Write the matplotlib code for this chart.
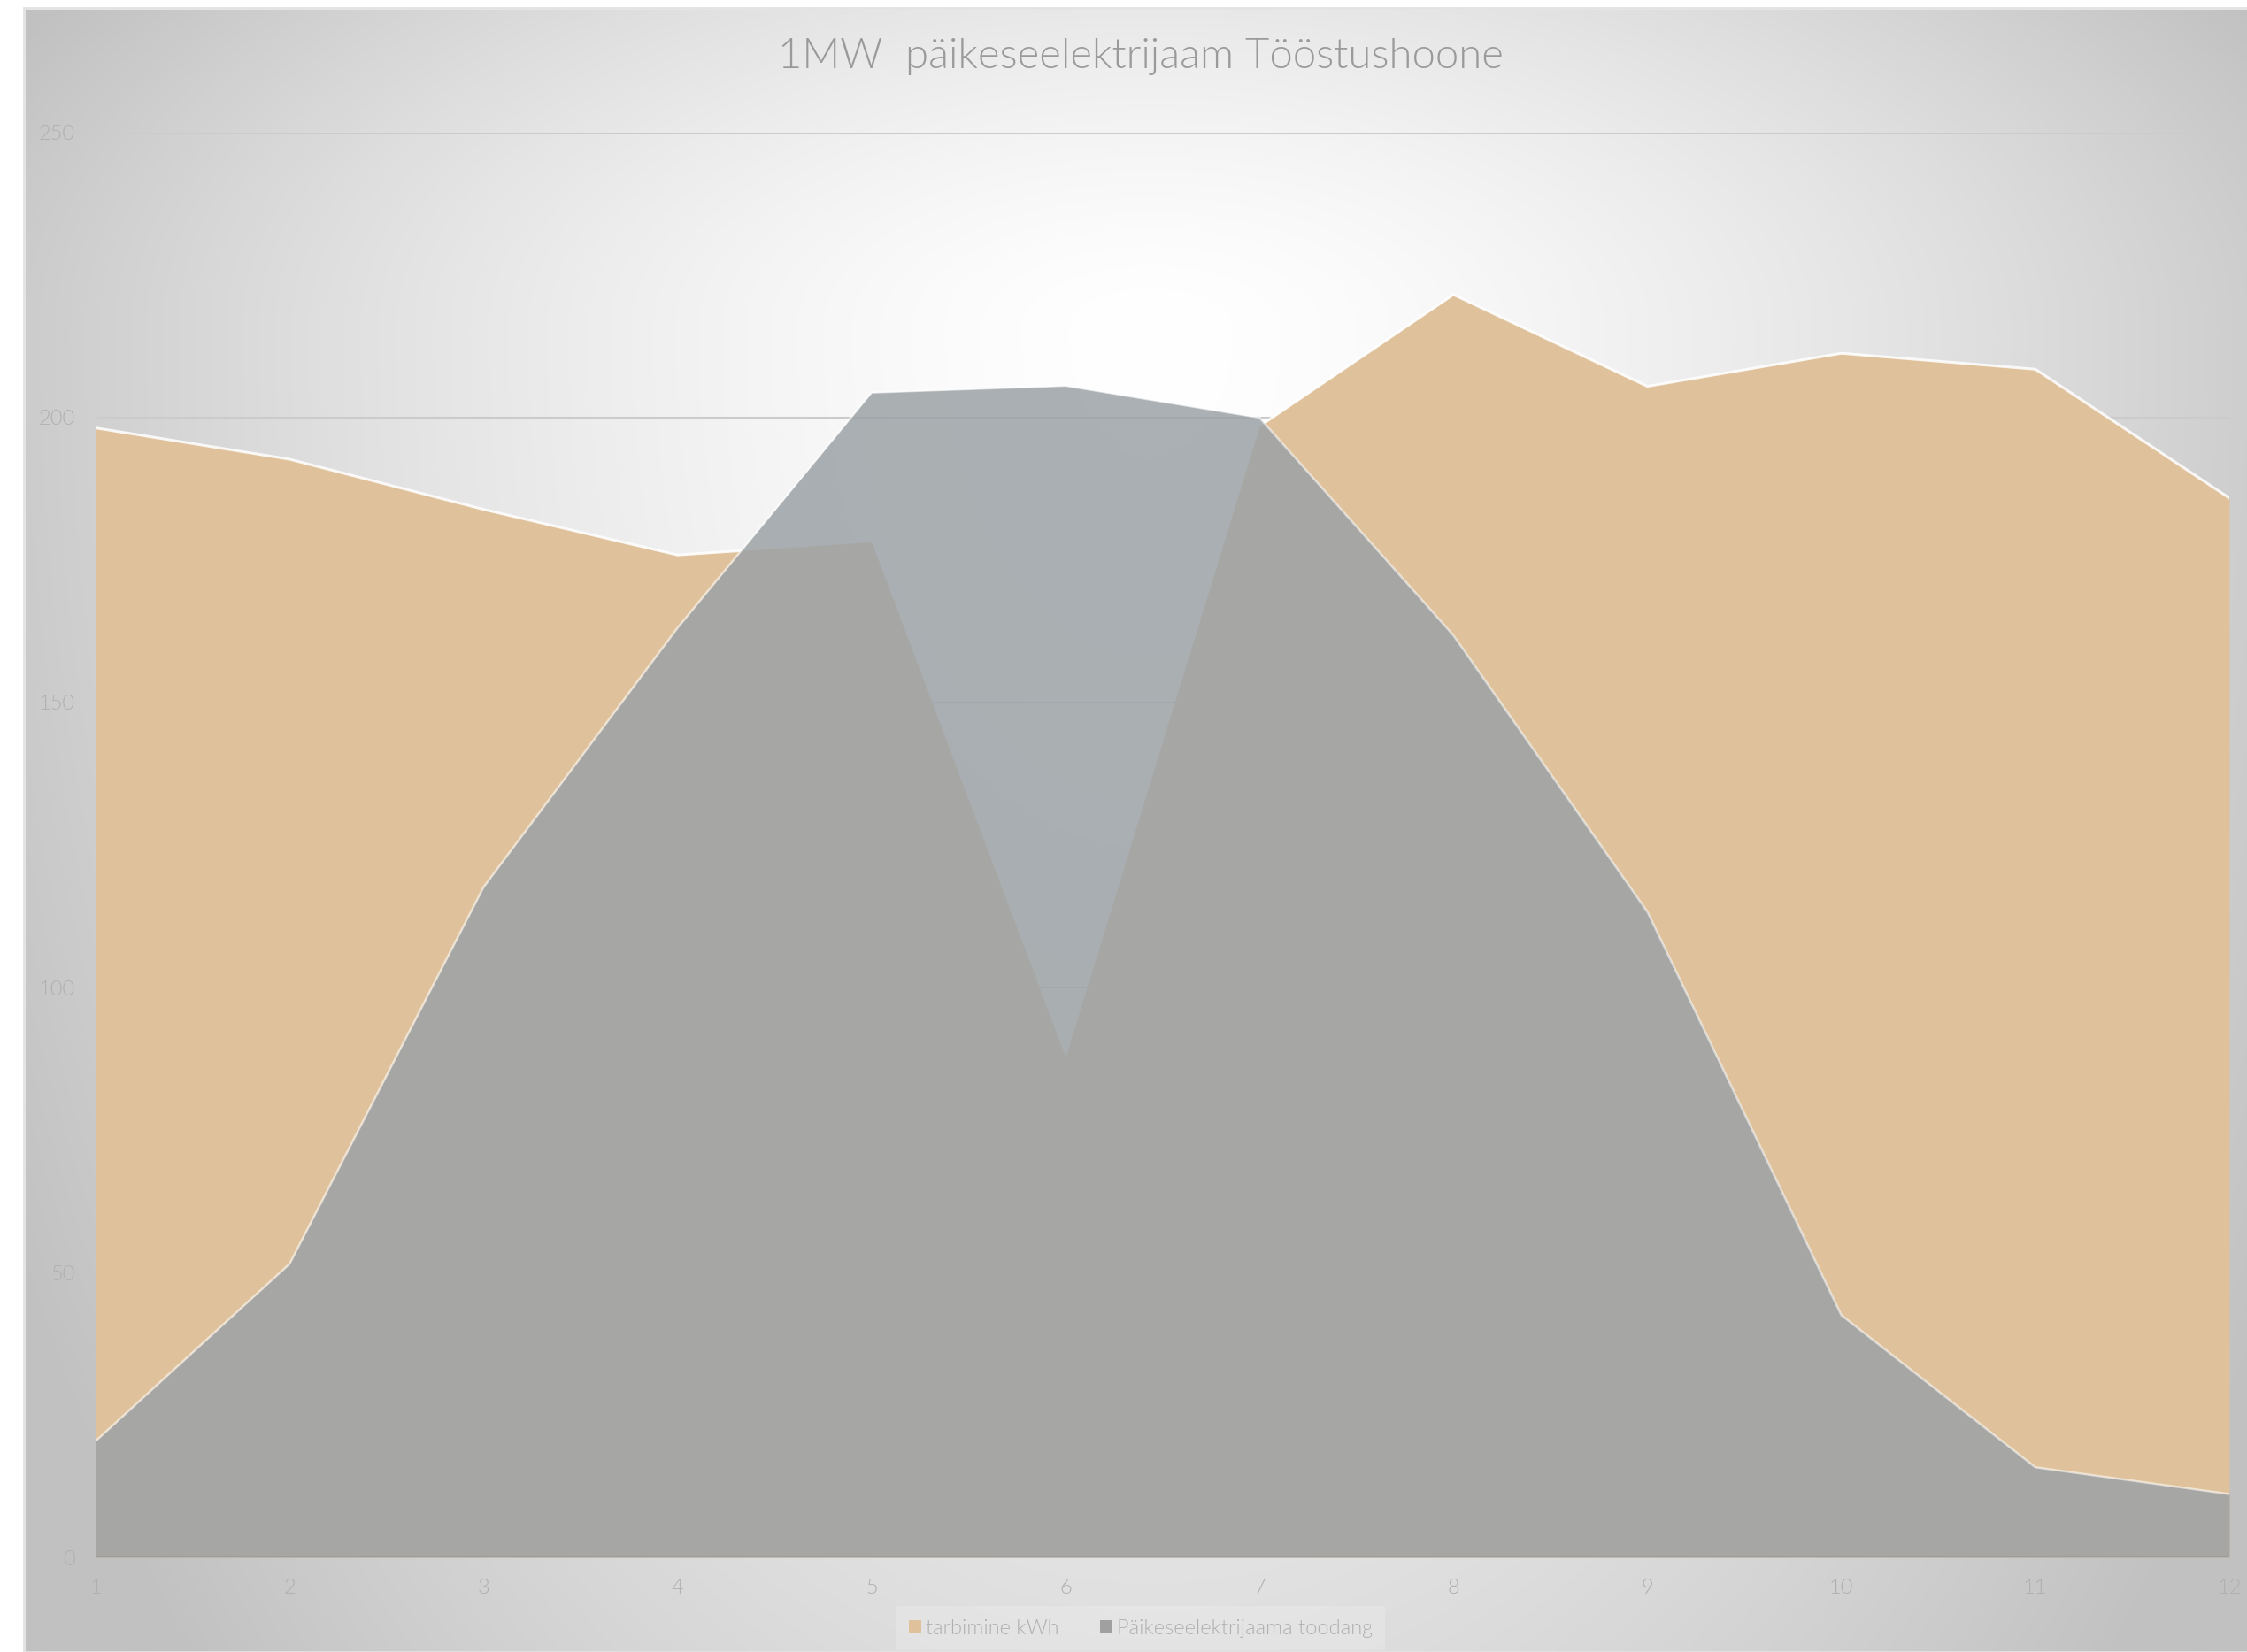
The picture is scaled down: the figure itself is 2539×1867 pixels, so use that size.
import numpy as np
import matplotlib
matplotlib.use("Agg")
import matplotlib.pyplot as plt
from matplotlib.patches import Rectangle, Patch

months = [1, 2, 3, 4, 5, 6, 7, 8, 9, 10, 11, 12]
consumption = [198.2, 192.7, 183.9, 175.9, 178.2, 87.8, 198.5, 221.6, 205.5, 211.3, 208.5, 185.9]
production = [20.4, 51.5, 117.6, 163.1, 204.4, 205.6, 200.0, 161.8, 113.3, 42.5, 15.8, 11.1]
yticks = [0, 50, 100, 150, 200, 250]
title = "1MW  päikeseelektrijaam Tööstushoone"
series_names = ["tarbimine kWh", "Päikeseelektrijaama toodang"]

FONT = ["Lato", "DejaVu Sans"]
W, H = 2539, 1867
fig = plt.figure(figsize=(W / 100, H / 100), dpi=100)
fig.patch.set_facecolor("white")

# background gradient panel
x0, ytop = 29, 11
bg = fig.add_axes([x0 / W, 0, 1 - x0 / W, 1 - ytop / H], zorder=0)
bw, bh = W - x0, H - ytop
yy, xx = np.mgrid[0:bh:4, 0:bw:4].astype(float)
cx, cy = 1300 - x0, 370 - ytop
dx = (xx - cx) / 1450.0
dyr = yy - cy
dy = np.where(dyr < 0, dyr / 700.0, dyr / 2300.0)
d = np.sqrt(dx ** 2 + dy ** 2)
t = np.clip(d, 0, 1) ** 1.5
val = (255 - 62 * t) / 255.0
img = np.dstack([val, val, val])
bg.imshow(img, extent=[0, 1, 0, 1], aspect="auto", origin="upper", interpolation="bilinear")
bg.set_xlim(0, 1); bg.set_ylim(0, 1)
bg.axis("off")
fig.add_artist(Rectangle((x0 / W - 0.0006, 0), 1, 1 - ytop / H + 0.0012, transform=fig.transFigure,
                         fill=False, edgecolor="#e2e2e2", linewidth=2, zorder=1))

ax = fig.add_axes([108 / W, 1 - 1760 / H, (2519 - 108) / W, (1760 - 150) / H], zorder=2)
ax.patch.set_alpha(0)
ax.set_xlim(1, 12)
ax.set_ylim(0, 250)

for v in yticks[1:]:
    ax.axhline(v, color="#cbcbcb", linewidth=1.5, zorder=1)

tan = "#dfc29c"
ax.fill_between(months, 0, consumption, color=tan, linewidth=0, zorder=2)
# region above production, used only to clip the consumption edge line
above = ax.fill_between(months, production, 300, alpha=0, linewidth=0)
cline, = ax.plot(months, consumption, color="white", linewidth=2.2, alpha=0.85, zorder=2.5,
                 solid_joinstyle="miter")
cline.set_clip_path(above.get_paths()[0], ax.transData)
ax.fill_between(months, 0, production, color="#9da3a7", alpha=0.86, linewidth=0, zorder=3)
ax.plot(months, production, color="white", linewidth=1.8, alpha=0.55, zorder=4, solid_joinstyle="miter")
ax.axhline(0, color="#9c9b99", linewidth=2, zorder=5)

for s in ax.spines.values():
    s.set_visible(False)
ax.set_xticks(months)
ax.set_xticklabels([str(m) for m in months])
ax.set_yticks(yticks)
ax.set_yticklabels([str(v) for v in yticks])
ax.tick_params(axis="both", length=0, labelsize=17, colors="#b0b0b0")
ax.tick_params(axis="y", pad=17)
ax.tick_params(axis="x", pad=17)
for lab in ax.get_xticklabels() + ax.get_yticklabels():
    lab.set_fontfamily(FONT)
    lab.set_fontweight(300)

fig.text(1289 / W, 1 - 64 / H, title, ha="center", va="center", fontsize=34,
         color="#9a9a9a", fontfamily=FONT, fontweight=300)

handles = [Patch(facecolor=tan, edgecolor="none"), Patch(facecolor="#a0a0a0", edgecolor="none")]
leg = fig.legend(handles, series_names, loc="center", bbox_to_anchor=(1289 / W, 1 - 1840 / H),
                 ncol=2, frameon=True, handlelength=0.6, handleheight=0.6,
                 handletextpad=0.2, columnspacing=2.0, borderpad=0.6, borderaxespad=0,
                 prop={"family": FONT, "weight": 300, "size": 17})
leg.get_frame().set_facecolor("white")
leg.get_frame().set_alpha(0.18)
leg.get_frame().set_edgecolor("none")
leg.get_frame().set_boxstyle("square", pad=0)
for t_ in leg.get_texts():
    t_.set_color("#b0b0b0")

fig.savefig("out.png", dpi=100)
